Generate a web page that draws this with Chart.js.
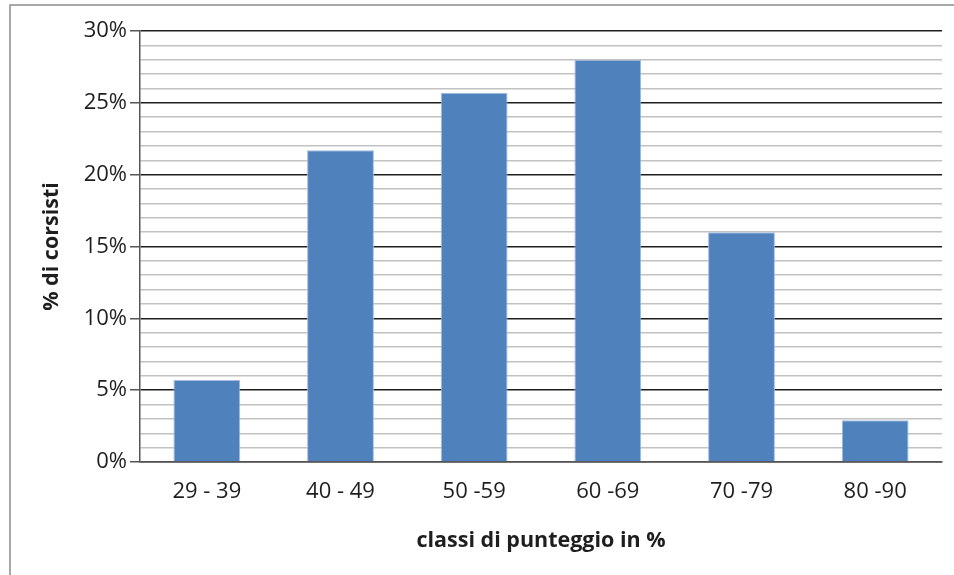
<!DOCTYPE html>
<html>
<head>
<meta charset="utf-8">
<script src="https://cdn.jsdelivr.net/npm/chart.js@4/dist/chart.umd.min.js"></script>
<style>
  html, body { margin: 0; padding: 0; background: #fff; }
  canvas { display: block; }
</style>
</head>
<body>
<canvas id="c" width="954" height="575"></canvas>
<script>
// Score classes and share of participants (%) in each class
const categories = ['29 - 39', '40 - 49', '50 -59', '60 -69', '70 -79', '80 -90'];
const shares = [5.7, 21.7, 25.7, 28.0, 16.0, 2.9];
const yMin = 0;
const yMax = 30;
const yStep = 1;        // minor gridline every 1%
const yLabelEvery = 5;  // labelled major line every 5%

const textColor = '#1e1e1e';
const tickFont = { family: '"Open Sans", "Noto Sans", sans-serif', size: 22 };
const titleFont = { family: '"Open Sans", "Noto Sans", sans-serif', size: 21.5, weight: 'bold' };

// Thin frame around the whole chart
const framePlugin = {
  id: 'frame',
  beforeDraw(chart) {
    const ctx = chart.ctx;
    ctx.save();
    ctx.fillStyle = '#fff';
    ctx.fillRect(0, 0, chart.width, chart.height);
    ctx.strokeStyle = '#8c8c8c';
    ctx.lineWidth = 1.5;
    ctx.strokeRect(10, 5, chart.width + 50, chart.height + 50);
    ctx.restore();
  }
};

const isMajor = v => Math.round(v) % yLabelEvery === 0;

new Chart(document.getElementById('c'), {
  type: 'bar',
  data: {
    labels: categories,
    datasets: [{
      data: shares,
      backgroundColor: '#4F81BD',
      borderColor: '#a3bde0',
      borderWidth: 1,
      barPercentage: 0.5,
      categoryPercentage: 1.0
    }]
  },
  options: {
    responsive: false,
    animation: false,
    layout: { padding: { left: 10, top: 31, right: 12, bottom: 0 } },
    plugins: {
      legend: { display: false },
      tooltip: { enabled: false }
    },
    scales: {
      x: {
        grid: {
          drawTicks: false,
          color: ctx => ctx.index === categories.length ? '#c8c8c8' : 'transparent',
          lineWidth: 1.5
        },
        border: { color: '#555', width: 1.5 },
        ticks: { color: textColor, font: tickFont, padding: 17 },
        title: {
          display: true,
          text: 'classi di punteggio in %',
          color: textColor,
          font: titleFont,
          padding: { top: 0, bottom: 21 }
        },
        afterFit(scale) {
          scale.height = 113;
          scale.paddingLeft = 0;
          scale.paddingRight = 0;
        }
      },
      y: {
        min: yMin,
        max: yMax,
        grid: {
          color: ctx => isMajor(ctx.tick.value) ? '#1e1e1e' : '#c2c2c2',
          lineWidth: 1.5,
          tickColor: ctx => isMajor(ctx.tick.value) ? '#555' : 'transparent',
          tickLength: 10
        },
        border: { color: '#555', width: 1.5 },
        ticks: {
          stepSize: yStep,
          autoSkip: false,
          color: textColor,
          font: tickFont,
          padding: 3,
          callback: v => isMajor(v) ? Math.round(v) + '%' : ''
        },
        title: {
          display: true,
          text: '% di corsisti',
          color: textColor,
          font: titleFont,
          padding: { top: 29, bottom: 0 }
        },
        afterFit(scale) {
          scale.width = 130;
          scale.paddingTop = 0;
          scale.paddingBottom = 0;
        }
      }
    }
  },
  plugins: [framePlugin]
});
</script>
</body>
</html>
